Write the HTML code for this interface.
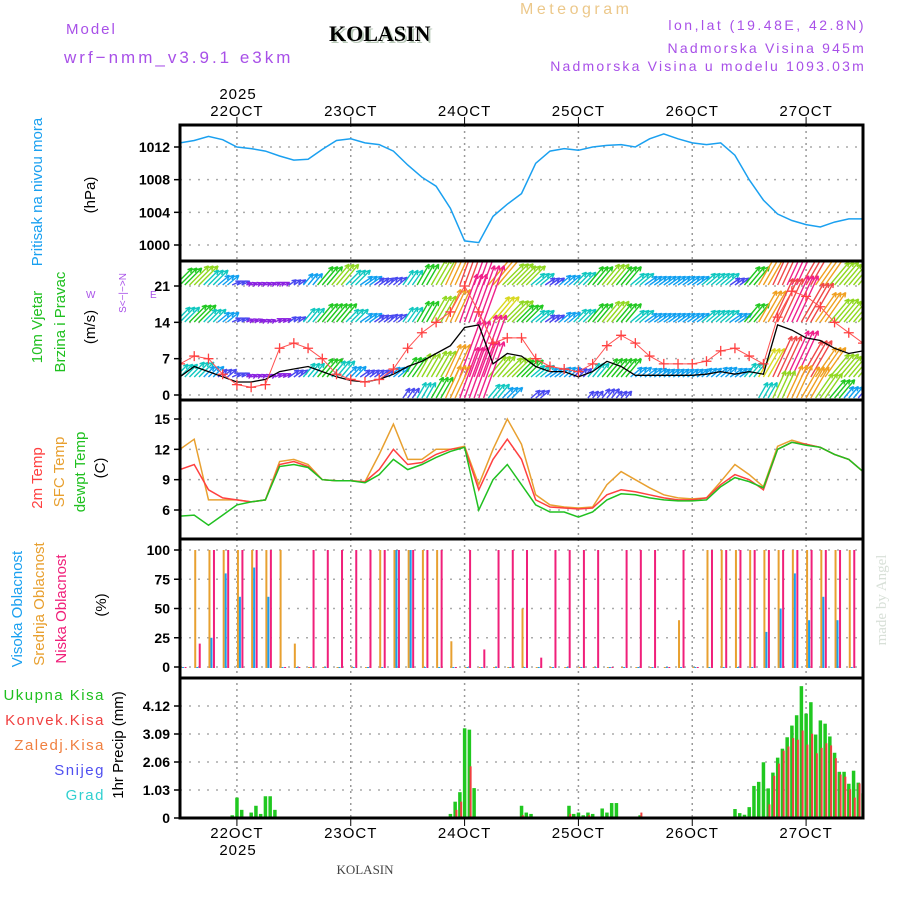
<!DOCTYPE html>
<html><head><meta charset="utf-8"><style>
html,body{margin:0;padding:0;background:#fff;}
</style></head><body>
<svg id="chart" width="900" height="900" viewBox="0 0 900 900" xmlns="http://www.w3.org/2000/svg" font-family="Liberation Sans, sans-serif">
<defs>
<clipPath id="cp1"><rect x="180" y="125" width="683" height="136"/></clipPath>
<clipPath id="cp2"><rect x="180" y="261" width="683" height="139"/></clipPath>
<clipPath id="cp3"><rect x="180" y="400" width="683" height="139"/></clipPath>
<clipPath id="cp4"><rect x="180" y="539" width="683" height="139"/></clipPath>
<clipPath id="cp5"><rect x="180" y="678" width="683" height="140"/></clipPath>
</defs>
<text x="520" y="14" fill="#ecc88a" font-size="16" letter-spacing="3.5">Meteogram</text>
<text x="331" y="43" style="font-family:'Liberation Serif',serif;font-weight:bold;font-size:22px" fill="#b8c8b8">KOLASIN</text>
<text x="329" y="41" style="font-family:'Liberation Serif',serif;font-weight:bold;font-size:22px" fill="#000">KOLASIN</text>
<text x="66" y="34" fill="#a850e8" font-size="15" letter-spacing="2">Model</text>
<text x="64" y="63" fill="#a850e8" font-size="17" letter-spacing="3">wrf−nmm_v3.9.1 e3km</text>
<text x="866" y="30" text-anchor="end" fill="#a850e8" font-size="14" letter-spacing="2.5">lon,lat (19.48E, 42.8N)</text>
<text x="866" y="53" text-anchor="end" fill="#a850e8" font-size="14" letter-spacing="2.2">Nadmorska Visina 945m</text>
<text x="866" y="71" text-anchor="end" fill="#a850e8" font-size="14" letter-spacing="2.2">Nadmorska Visina u modelu 1093.03m</text>
<g id="grid"></g>
<g id="marks"></g>
<g id="frame"></g>
<g id="labels">
<text transform="translate(42,192) rotate(-90)" text-anchor="middle" fill="#1aa0f0" font-size="15">Pritisak na nivou mora</text>
<text transform="translate(95,195) rotate(-90)" text-anchor="middle" fill="#000" font-size="15">(hPa)</text>
<text transform="translate(42,327) rotate(-90)" text-anchor="middle" fill="#20c020" font-size="15">10m Vjetar</text>
<text transform="translate(65,322) rotate(-90)" text-anchor="middle" fill="#20c020" font-size="15">Brzina i Pravac</text>
<text transform="translate(95,327) rotate(-90)" text-anchor="middle" fill="#000" font-size="15">(m/s)</text>
<text transform="translate(126,293) rotate(-90)" text-anchor="middle" fill="#a850e8" font-size="10">S&lt;−|−&gt;N</text>
<text x="86" y="298" fill="#a850e8" font-size="10">W</text>
<text x="150" y="298" fill="#a850e8" font-size="10">E</text>
<text transform="translate(42,478) rotate(-90)" text-anchor="middle" fill="#ff4040" font-size="15">2m Temp</text>
<text transform="translate(64,472) rotate(-90)" text-anchor="middle" fill="#e8a030" font-size="15">SFC Temp</text>
<text transform="translate(85,472) rotate(-90)" text-anchor="middle" fill="#20c020" font-size="15">dewpt Temp</text>
<text transform="translate(105,468) rotate(-90)" text-anchor="middle" fill="#000" font-size="15">(C)</text>
<text transform="translate(22,609) rotate(-90)" text-anchor="middle" fill="#1aa0f0" font-size="15">Visoka Oblacnost</text>
<text transform="translate(44,604) rotate(-90)" text-anchor="middle" fill="#e8a030" font-size="15">Srednja Oblacnost</text>
<text transform="translate(66,609) rotate(-90)" text-anchor="middle" fill="#f0207a" font-size="15">Niska Oblacnost</text>
<text transform="translate(106,605) rotate(-90)" text-anchor="middle" fill="#000" font-size="15">(%)</text>
<text x="105" y="700" text-anchor="end" fill="#20c020" font-size="15" letter-spacing="1.5">Ukupna  Kisa</text>
<text x="105" y="725" text-anchor="end" fill="#f04040" font-size="15" letter-spacing="1.5">Konvek.Kisa</text>
<text x="105" y="750" text-anchor="end" fill="#f08040" font-size="15" letter-spacing="1.5">Zaledj.Kisa</text>
<text x="105" y="775" text-anchor="end" fill="#5050f0" font-size="15" letter-spacing="1.5">Snijeg</text>
<text x="105" y="800" text-anchor="end" fill="#30d0d0" font-size="15" letter-spacing="1.5">Grad</text>
<text transform="translate(123,745) rotate(-90)" text-anchor="middle" fill="#000" font-size="15">1hr Precip (mm)</text>
<text x="238" y="99" text-anchor="middle" fill="#000" font-size="15" letter-spacing="1">2025</text>
<text x="238" y="855" text-anchor="middle" fill="#000" font-size="15" letter-spacing="1">2025</text>
<text x="365" y="874" text-anchor="middle" style="font-family:'Liberation Serif',serif;font-size:13px" fill="#444">KOLASIN</text>
<text transform="translate(886,600) rotate(-90)" text-anchor="middle" style="font-family:'Liberation Serif',serif;font-size:15px" fill="#d8e0d8">made by Angel</text>
</g>
</svg>
<script>
// ---- data ----
const dayLabels = ["22OCT","23OCT","24OCT","25OCT","26OCT","27OCT"];
const dayHours = [12,36,60,84,108,132];
// 3-hourly series starting 21 Oct 12z
const pressure = [1012.5,1012.8,1013.3,1012.9,1012.0,1011.8,1011.5,1010.9,1010.4,1010.5,1011.7,1012.8,1013.0,1012.5,1012.3,1011.5,1009.8,1008.3,1007.2,1004.5,1000.5,1000.3,1003.5,1005.0,1006.3,1010.0,1011.5,1011.8,1011.6,1012.0,1012.2,1012.3,1012.0,1013.0,1013.6,1013.0,1012.5,1012.3,1012.5,1011.0,1008.0,1005.5,1003.8,1003.0,1002.5,1002.2,1002.8,1003.2,1003.2];
const t2m = [10,10.5,8,7.2,7,6.8,7,10.5,10.8,10.3,9,8.9,8.9,8.8,10,12,10.5,10.7,11.5,12,12.2,8,11,13,11,7,6.3,6.2,6.1,6.2,7.5,8,7.8,7.5,7.2,7,7,7.2,8.5,9.5,9,8,12,12.7,12.5,12.2,11.5,11,9.8];
const tsfc = [12,13,7,7,7,6.8,7,10.8,11,10.5,9,8.9,8.9,8.8,11.5,14.5,11,11,12,12,12.3,8.5,12,15,12.5,7.5,6.5,6.3,6.2,6.3,8.5,9.8,9,8.2,7.5,7.2,7.1,7.2,8.8,10.5,9.5,8.3,12.3,12.9,12.5,12.2,11.5,11,9.8];
const tdew = [5.4,5.5,4.5,5.5,6.5,6.8,7,10.3,10.5,10.2,9,8.9,8.9,8.7,9.5,11,10,10.5,11.2,11.8,12.2,6,9,10.5,8.5,6.5,5.8,5.8,5.3,5.8,7,7.6,7.5,7.2,7,6.9,6.9,7,8.3,9.2,8.8,8.2,12,12.7,12.4,12.2,11.5,11,9.8];
const windSpeed = [3.5,5.5,4.5,3.5,2.5,2.5,3,4.5,5,5.5,4.5,3.5,2.8,2.5,3,4,5.5,6.5,8,9.5,13,13.5,6,8,7.5,5.5,4.5,4.5,3.5,4.5,6.5,5.5,3.8,3.8,3.8,3.8,3.8,4,4.5,4,4.5,4,13.5,12.5,11,10.5,9,8,8.5];
const windGust = [6,7.5,7,4,2,1.5,2,9,10,9,7,4,3,2.5,3,5,9,12,14,16,21,16,10,11,11,7,5.5,5,4.5,6,9.5,11.5,10,7.5,6,6,6,6.5,8.5,9,7.5,6,15,20,19,17,14,12,10];
const windRowA = [8,9,7,5,3,2,2,2,3,5,8,9,7,5,4,4,6,8,10,12,16,20,12,10,9,6,4,5,6,8,9,8,6,5,5,5,5,6,6,4,8,12,15,17,15,12,10,9,9];
const windRowB = [7,8,6,5,3,2.5,2,2.5,3,6,8,8,6,5,4,4,6,8,10,12,17,20,11,10,8,6,4,5,6,8,9,8,6,5,5,5,5,6,6,5,8,12,16,17,15,12,10,9,9];
const windRowC = [6,7,5,4,3,2,2,2.5,4,6,8,7,5,4,4,5,8,9,10,12,20,22,9,9,8,6,5,5,4,6,8,8,5,5,4.5,4.5,4.5,4.5,5,5,6,11,15,17,14,12,10,9,9];
const windRowD = [0,0,0,0,0,0,0,0,0,0,0,0,0,0,0,0,4,6,8,12,18,20,6,5,0,4,0,0,0,3,4,3,0,0,0,0,0,0,0,0,0,6,10,12,12,10,8,5,4];
const windDir = [45,45,45,40,25,20,20,25,35,50,50,50,45,35,35,40,55,60,60,65,70,70,50,45,45,40,35,40,45,50,50,50,40,35,35,35,35,40,40,35,50,60,65,65,60,55,50,50,50];
const cloudHigh = [0,0,25,80,60,85,60,0,0,0,0,0,0,0,0,100,100,0,0,0,0,0,0,0,0,0,0,0,0,0,0,0,0,0,0,0,0,0,0,0,0,30,50,80,40,60,40,0,0];
const cloudMid = [0,100,100,100,100,100,100,100,20,0,0,0,0,0,100,100,100,100,100,22,0,0,0,0,50,0,0,0,0,0,0,0,0,0,0,40,0,100,100,100,100,100,100,100,100,100,100,100,100];
const cloudLow = [0,20,100,100,100,100,100,0,0,100,100,100,100,100,100,100,100,100,100,0,100,15,100,100,100,8,100,100,100,100,0,100,100,100,0,100,0,100,100,100,100,100,100,100,100,100,100,100,100];
// hourly precipitation starting 21 Oct 12z
const precipTotal = [0,0,0,0,0,0,0,0,0,0,
0.05,0.1,0.75,0.3,0,0.2,0.45,0.15,0.8,0.8,
0.3,0.05,0,0,0,0.03,0,0,0,0,
0,0,0,0,0,0.05,0,0,0,0,
0,0,0,0,0,0,0,0,0,0,
0,0,0,0,0,0,0,0.15,0.6,0.95,
3.3,3.25,1.1,0,0,0,0,0,0,0,
0,0,0.45,0.2,0.15,0,0,0,0,0,
0,0,0.45,0.15,0.2,0.1,0.2,0.15,0,0.35,
0.2,0.55,0.55,0,0,0,0,0.1,0,0,
0,0,0,0,0,0,0,0,0,0,
0,0,0,0,0,0,0,0.33,0.18,0.12,
0.4,1.18,1.33,2.05,1.09,1.67,2.22,2.55,2.97,3.4,
3.78,4.85,3.84,4.26,3.07,3.59,3.47,3.0,2.4,1.7,
1.7,1.26,1.74,1.3,0.91];
const precipConv = [0,0,0,0,0,0,0,0,0,0,
0,0,0,0,0,0,0,0,0,0,
0,0,0,0,0,0,0,0,0,0,
0,0,0,0,0,0,0,0,0,0,
0,0,0,0,0,0,0,0,0,0,
0,0,0,0,0,0,0,0,0.3,0.6,
0,1.9,0,0,0,0,0,0,0,0,
0,0,0.1,0,0,0,0,0,0,0,
0,0,0.15,0,0,0,0.1,0,0,0,
0,0,0,0,0,0,0,0.2,0,0,
0,0,0,0,0,0,0,0,0,0,
0,0,0,0,0,0,0,0,0,0,
0,0,0,0,0.5,1.55,2.0,2.48,2.63,2.94,
2.88,3.22,2.7,3.1,2.38,2.58,2.75,2.67,2.2,1.6,
1.52,1.06,0.75,1.27,0.88];
const pTicks = [1000,1004,1008,1012];
const wTicks = [0,7,14,21];
const tTicks = [6,9,12,15];
const cTicks = [0,25,50,75,100];
const rTicks = [0,1.03,2.06,3.09,4.12];
const rTickLabels = ["0","1.03","2.06","3.09","4.12"];

// ---- scales ----
const X0=180,X1=863,HOURS=144;
const xh = h => X0 + h*(X1-X0)/HOURS;
const x3 = i => xh(i*3);
const yP = v => 245 - (v-1000)*(98/12);
const yW = v => 395 - v*(109/21);
const yT = v => 510 - (v-6)*(91/9);
const yC = v => 667 - v*1.17;
const yR = v => 818 - v*(112/4.12);

const NS="http://www.w3.org/2000/svg";
function mk(tag, parent){const e=document.createElementNS(NS,tag);parent.appendChild(e);return e;}
const grid=document.getElementById('grid'), marks=document.getElementById('marks'), frame=document.getElementById('frame'), labels=document.getElementById('labels');

dayHours.forEach((h,k)=>{
  const g=mk('line',grid);
  
  
  g.setAttribute('x1',xh(h));g.setAttribute('x2',xh(h));g.setAttribute('y1',125);g.setAttribute('y2',818);
  g.setAttribute('stroke','#999');g.setAttribute('stroke-width','1.5');g.setAttribute('stroke-dasharray','2,4');
  [[117,125],[818,826]].forEach(([a,b])=>{const t=mk('line',frame);
    
    
    t.setAttribute('x1',xh(h));t.setAttribute('x2',xh(h));t.setAttribute('y1',a);t.setAttribute('y2',b);t.setAttribute('stroke','#000');});
  [116,838].forEach(y=>{const t=mk('text',labels);
    
    
    t.setAttribute('x',xh(h));t.setAttribute('y',y);t.setAttribute('text-anchor','middle');t.setAttribute('font-size','15');t.setAttribute('letter-spacing','1');t.textContent=dayLabels[k];});
});
function hTicks(ticks, yf, texts){
  ticks.forEach((v,k)=>{
    const y=yf(v);
    const g=mk('line',grid);
    
    
    g.setAttribute('x1',X0);g.setAttribute('x2',X1);g.setAttribute('y1',y);g.setAttribute('y2',y);
    g.setAttribute('stroke','#aaa');g.setAttribute('stroke-width','1.5');g.setAttribute('stroke-dasharray','2,7');
    const tk=mk('line',frame);
    
    
    tk.setAttribute('x1',X0-6);tk.setAttribute('x2',X0);tk.setAttribute('y1',y);tk.setAttribute('y2',y);tk.setAttribute('stroke','#000');tk.setAttribute('stroke-width','1.5');
    const t=mk('text',labels);
    
    
    t.setAttribute('x',X0-10);t.setAttribute('y',y+5);t.setAttribute('text-anchor','end');t.setAttribute('font-size','14');t.setAttribute('font-weight','bold');
    t.textContent = texts ? texts[k] : String(v);
  });
}
hTicks(pTicks,yP);hTicks(wTicks,yW);hTicks(tTicks,yT);hTicks(cTicks,yC);hTicks(rTicks,yR,rTickLabels);

function line(arr, yf, color, clip, name, w){
  const p=mk('polyline',marks);
  
  
  p.setAttribute('points',arr.map((v,i)=>x3(i).toFixed(1)+','+yf(v).toFixed(1)).join(' '));
  p.setAttribute('fill','none');p.setAttribute('stroke',color);p.setAttribute('stroke-width',w||1.5);p.setAttribute('clip-path','url(#'+clip+')');
  return p;
}
line(pressure,yP,'#1aa0f0','cp1','pressure-line',1.5);

function wColor(s){
  if(s<3) return '#8a20e0'; if(s<4.5) return '#4848f0'; if(s<6) return '#10a0f0';
  if(s<7.5) return '#10c8c0'; if(s<9) return '#20c820'; if(s<10.5) return '#90d820';
  if(s<12) return '#d8d820'; if(s<14) return '#f0a020'; if(s<17) return '#f04848'; return '#f0208a';
}
const wg=mk('g',marks);


wg.setAttribute('clip-path','url(#cp2)');
const hourPx=(X1-X0)/HOURS;
[[windRowA,285],[windRowB,322],[windRowC,377],[windRowD,398]].forEach(([row,base])=>{
  row.forEach((s,i)=>{
    if(s<=0) return;
    const a=windDir[i]*Math.PI/180, L=s*3.0;
    const c=wColor(s);
    [-1,0,1].forEach(o=>{
      const x0=x3(i)+o*hourPx, x1=x0+L*Math.cos(a), y1=base-L*Math.sin(a);
      const ar=mk('path',wg);
      
      
      const h1=a+Math.PI-0.45, h2=a+Math.PI+0.45;
      ar.setAttribute('d',`M${x0},${base}L${x1},${y1}M${x1},${y1}L${x1+5*Math.cos(h1)},${y1-5*Math.sin(h1)}M${x1},${y1}L${x1+5*Math.cos(h2)},${y1-5*Math.sin(h2)}`);
      ar.setAttribute('stroke',c);ar.setAttribute('stroke-width','1.4');ar.setAttribute('fill','none');
    });
  });
});
line(windSpeed,yW,'#000','cp2','wind-speed-line',1.3);
line(windGust,yW,'#ff5050','cp2','wind-gust-line',1);
windGust.forEach((v,i)=>{
  const c=mk('path',marks);
  
  
  const x=x3(i),y=yW(v);
  c.setAttribute('d',`M${x-5},${y}H${x+5}M${x},${y-5}V${y+5}`);
  c.setAttribute('stroke','#ff4040');c.setAttribute('stroke-width','1.3');c.setAttribute('clip-path','url(#cp2)');
});

line(tsfc,yT,'#e8a030','cp3','sfc-temp-line',1.5);
line(t2m,yT,'#ff4040','cp3','2m-temp-line',1.5);
line(tdew,yT,'#20c020','cp3','dewpoint-line',1.5);

[[cloudMid,'#e8a030',0],[cloudHigh,'#1aa0f0',2],[cloudLow,'#f0207a',4.5]].forEach(([arr,col,off])=>{
  arr.forEach((v,i)=>{
    const b=mk('rect',marks);
    
    
    b.setAttribute('x',x3(i)+off);b.setAttribute('width',2);
    b.setAttribute('y',yC(v));b.setAttribute('height',Math.max(0,yC(0)-yC(v))+1);
    b.setAttribute('fill',col);b.setAttribute('clip-path','url(#cp4)');
  });
});

precipTotal.forEach((v,h)=>{
  if(v<=0) return;
  const b=mk('rect',marks);
  
  
  b.setAttribute('x',xh(h)-1.7);b.setAttribute('width',3.5);
  b.setAttribute('y',yR(v));b.setAttribute('height',yR(0)-yR(v));
  b.setAttribute('fill','#20c820');b.setAttribute('clip-path','url(#cp5)');
});
precipConv.forEach((v,h)=>{
  if(v<=0) return;
  const b=mk('rect',marks);
  
  
  b.setAttribute('x',xh(h)+0.3);b.setAttribute('width',2);
  b.setAttribute('y',yR(v));b.setAttribute('height',yR(0)-yR(v));
  b.setAttribute('fill','#f04040');b.setAttribute('clip-path','url(#cp5)');
});

[125,261,400,539,678,818].forEach(y=>{
  const l=mk('line',frame);
  
  
  l.setAttribute('x1',X0-1.5);l.setAttribute('x2',X1+1.5);l.setAttribute('y1',y);l.setAttribute('y2',y);
  l.setAttribute('stroke','#000');l.setAttribute('stroke-width','3');
});
[X0,X1].forEach(x=>{
  const l=mk('line',frame);
  
  
  l.setAttribute('x1',x);l.setAttribute('x2',x);l.setAttribute('y1',125);l.setAttribute('y2',818);
  l.setAttribute('stroke','#000');l.setAttribute('stroke-width','3');
});
</script>
</body></html>
